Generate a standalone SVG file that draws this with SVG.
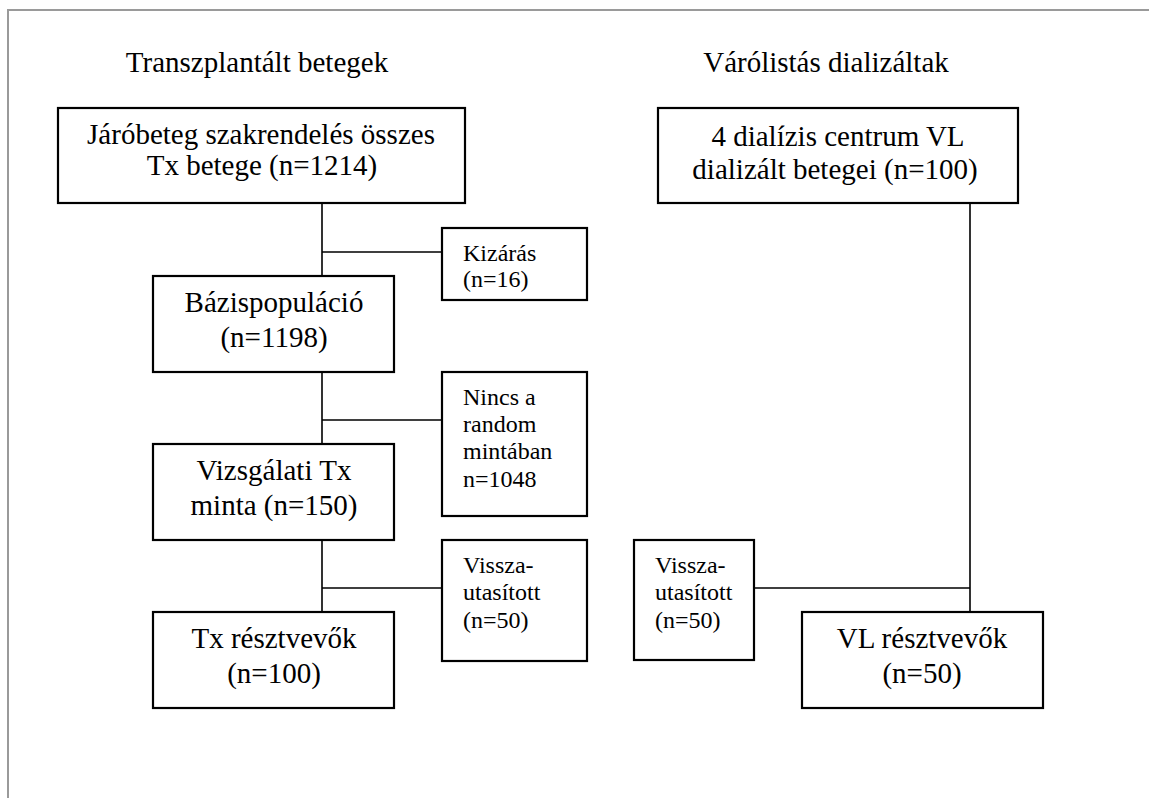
<svg xmlns="http://www.w3.org/2000/svg" width="1149" height="798" viewBox="0 0 1149 798" font-family="'Liberation Serif', 'Times New Roman', serif">
<style>
.frame{fill:none;stroke:#9a9a9a;stroke-width:2}
.box{fill:#fff;stroke:#000;stroke-width:2.2}
.ln{fill:none;stroke:#000;stroke-width:1.6}
.big{font-size:29px;text-anchor:middle;font-family:'Liberation Serif',serif}
.sm{font-size:24px;font-family:'Liberation Serif',serif}
.head{font-size:29px;text-anchor:middle;font-family:'Liberation Serif',serif}
</style>
<rect width="1149" height="798" fill="#fff"/>
<rect class="frame" x="8" y="10" width="1160" height="800"/>
<text class="head" x="257" y="72">Transzplantált betegek</text>
<text class="head" x="826" y="72">Várólistás dializáltak</text>
<g id="connectors">
<path class="ln" d="M322 203V276M322 252H442"/>
<path class="ln" d="M322 372V444M322 420H442"/>
<path class="ln" d="M322 540V612M322 588H442"/>
<path class="ln" d="M970 203V612M754 588H970"/>
</g>
<g id="n1"><rect class="box" x="58" y="108" width="407" height="95"/>
<text class="big" x="261" y="144">Járóbeteg szakrendelés összes</text>
<text class="big" x="262" y="175">Tx betege (n=1214)</text></g>
<g id="n2"><rect class="box" x="658" y="108" width="360" height="95"/>
<text class="big" x="838" y="146">4 dialízis centrum VL</text>
<text class="big" x="835" y="179">dializált betegei (n=100)</text></g>
<g id="n3"><rect class="box" x="442" y="228" width="145" height="72"/>
<text class="sm" x="463" y="261">Kizárás</text>
<text class="sm" x="463" y="287">(n=16)</text></g>
<g id="n4"><rect class="box" x="153" y="276" width="241" height="96"/>
<text class="big" x="274" y="312">Bázispopuláció</text>
<text class="big" x="274" y="347">(n=1198)</text></g>
<g id="n5"><rect class="box" x="442" y="372" width="145" height="144"/>
<text class="sm" x="463" y="405">Nincs a</text>
<text class="sm" x="463" y="432">random</text>
<text class="sm" x="463" y="459">mintában</text>
<text class="sm" x="463" y="487">n=1048</text></g>
<g id="n6"><rect class="box" x="153" y="444" width="241" height="96"/>
<text class="big" x="274" y="480">Vizsgálati Tx</text>
<text class="big" x="274" y="515">minta (n=150)</text></g>
<g id="n7"><rect class="box" x="442" y="540" width="145" height="121"/>
<text class="sm" x="463" y="573">Vissza-</text>
<text class="sm" x="463" y="600">utasított</text>
<text class="sm" x="463" y="628">(n=50)</text></g>
<g id="n8"><rect class="box" x="153" y="612" width="241" height="96"/>
<text class="big" x="274" y="648">Tx résztvevők</text>
<text class="big" x="274" y="683">(n=100)</text></g>
<g id="n9"><rect class="box" x="634" y="540" width="120" height="120"/>
<text class="sm" x="655" y="573">Vissza-</text>
<text class="sm" x="655" y="600">utasított</text>
<text class="sm" x="655" y="628">(n=50)</text></g>
<g id="n10"><rect class="box" x="802" y="612" width="241" height="96"/>
<text class="big" x="922" y="648">VL résztvevők</text>
<text class="big" x="922" y="683">(n=50)</text></g>
</svg>
